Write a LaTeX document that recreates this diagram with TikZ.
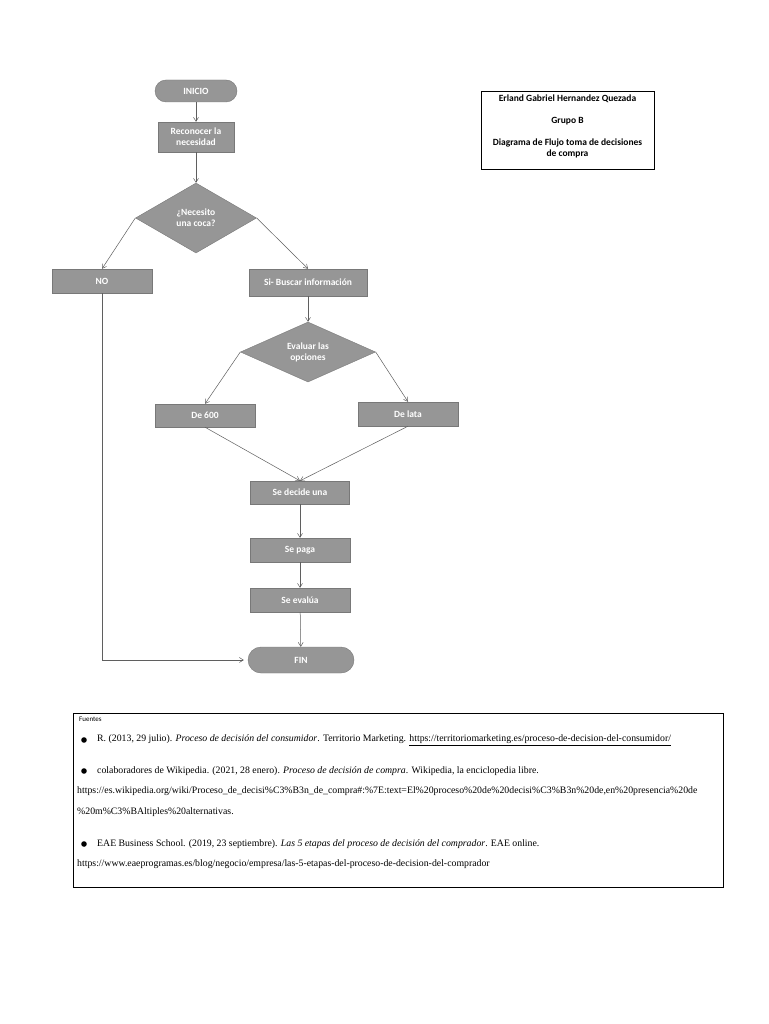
\documentclass[tikz,border=0pt]{standalone}
\usepackage{fontspec}
\setmainfont{Liberation Serif}
\newfontfamily\carlito{Carlito}
\usepackage{tikz}
\usetikzlibrary{arrows.meta,shapes.geometric,positioning}
\tikzset{>/.tip={Straight Barb[length=4pt,width=5pt,line width=0.5pt]}}
\definecolor{boxgray}{RGB}{150,150,150}
\definecolor{boxline}{RGB}{120,120,120}
\definecolor{linegray}{RGB}{95,95,95}
\tikzset{
  box/.style={draw=boxline,fill=boxgray,text=white,minimum width=100pt,minimum height=24pt,inner sep=1pt,align=center},
  endbox/.style={box,rounded corners=12pt},
  choice/.style={diamond,draw=boxline,fill=boxgray,text=white,aspect=1.7,inner sep=0pt,align=center},
  link/.style={draw=linegray,line width=0.5pt,->},
  ref/.style={anchor=west,inner sep=0pt,font=\rmfamily\mdseries\fontsize{9.8}{11}\selectfont},
}

\begin{document}
\begin{tikzpicture}[x=1pt,y=-1pt,font=\carlito\bfseries\fontsize{9.5}{11}\selectfont]
        \useasboundingbox[fill=white] (0,0) rectangle (768,1024);
        % diagrama
        \node(inicio)[endbox,minimum width=82pt,minimum height=22pt,rounded corners=11pt] at (196,91){INICIO};
        \node(reconocer)[box,minimum width=76pt,minimum height=30pt] at (196,137){Reconocer la\\necesidad};
        \node(coca)[choice,minimum width=121pt,minimum height=70pt] at (196,218){¿Necesito\\una coca?};
        \node(no)[box] at (102,281){NO};
        \node(buscar)[box,minimum width=118pt,minimum height=27pt] at (308,282.5){Si- Buscar información};
        \node(evaluar)[choice,minimum width=135pt,minimum height=60pt] at (308,352){Evaluar las\\opciones};
        \node(d600)[box,minimum height=23pt] at (205,415.5){De 600};
        \node(lata)[box] at (408,414){De lata};
        \node(decide)[box,minimum width=99pt,minimum height=23pt] at (300,492.5){Se decide una};
        \node(paga)[box] at (300,550){Se paga};
        \node(evalua)[box] at (300,600){Se evalúa};
        \node(fin)[endbox,minimum width=106pt,minimum height=26pt,rounded corners=13pt] at (301,660){FIN};
        \draw[link] (inicio) -- (reconocer);
        \draw[link] (reconocer) -- (coca);
        \draw[link] (coca.west) -- (no.north);
        \draw[link] (coca.east) -- (buscar.north);
        \draw[link] (buscar) -- (evaluar);
        \draw[link] (evaluar.west) -- (d600.north);
        \draw[link] (evaluar.east) -- (lata.north);
        \draw[link] (d600.south) -- (decide.north);
        \draw[link] (lata.south) -- (decide.north);
        \draw[link] (decide) -- (paga);
        \draw[link] (paga) -- (evalua);
        \draw[link] (evalua) -- (fin);
        \draw[link,shorten >=4pt] (no.south) |- (fin.west);
        % datos del autor
        \node(marco)[draw,line width=0.6pt,minimum width=173pt,minimum height=78pt] at (567.5,130){};
        \node(autor) at (567.5,99){Erland Gabriel Hernandez Quezada};
        \node(grupo) at (567.5,121){Grupo B};
        \node(tema)[align=center] at (567.5,148){Diagrama de Flujo toma de decisiones\\de compra};
        % fuentes
        \node(caja)[draw,line width=0.6pt,minimum width=650pt,minimum height=174pt] at (398,800){};
        \node(fuentes)[anchor=west,inner sep=0pt,font=\carlito\fontsize{7}{8}\selectfont] at (79,719){Fuentes};
        \foreach \y in {740,771,844} \fill (84,\y) circle (2.8pt);
        \node(refa)[ref] at (97,740){R. (2013, 29 julio). \textit{Proceso de decisión del consumidor}. Territorio Marketing. \underline{https://territoriomarketing.es/proceso-de-decision-del-consumidor/}};
        \node(refb)[ref] at (97,771){colaboradores de Wikipedia. (2021, 28 enero). \textit{Proceso de decisión de compra}. Wikipedia, la enciclopedia libre.};
        \node(refc)[ref] at (77,791){https://es.wikipedia.org/wiki/Proceso\_de\_decisi\%C3\%B3n\_de\_compra\#:\%7E:text=El\%20proceso\%20de\%20decisi\%C3\%B3n\%20de,en\%20presencia\%20de};
        \node(refd)[ref] at (77,812){\%20m\%C3\%BAltiples\%20alternativas.};
        \node(refe)[ref] at (97,844){EAE Business School. (2019, 23 septiembre). \textit{Las 5 etapas del proceso de decisión del comprador}. EAE online.};
        \node(reff)[ref] at (77,864){https://www.eaeprogramas.es/blog/negocio/empresa/las-5-etapas-del-proceso-de-decision-del-comprador};
      \end{tikzpicture}
\end{document}
